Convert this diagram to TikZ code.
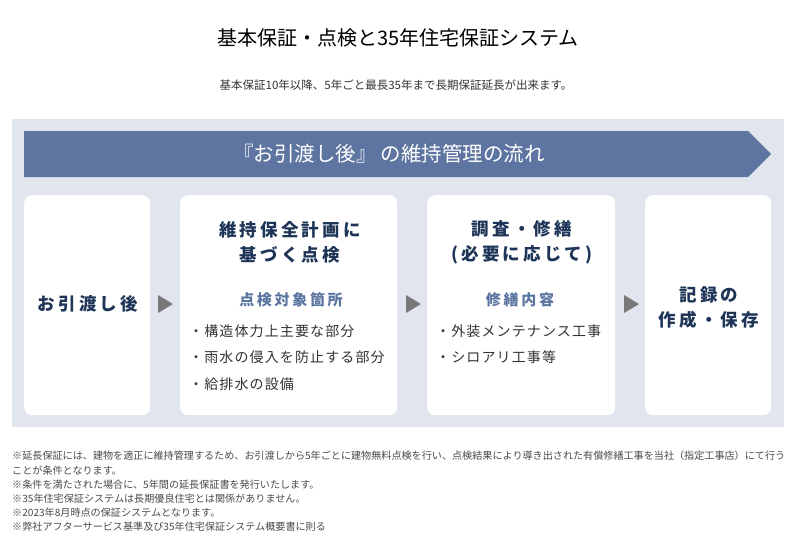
\documentclass[tikz,border=0pt]{standalone}
\usepackage{fontspec}
\setmainfont{Noto Sans CJK JP}
\usepackage{xcolor}
\usetikzlibrary{positioning}

\definecolor{panelgray}{HTML}{E1E6EE}
\definecolor{bannerblue}{HTML}{5D75A0}
\definecolor{navy}{HTML}{1E3557}
\definecolor{subblue}{HTML}{5A74A0}
\definecolor{bodygray}{HTML}{333333}
\definecolor{notegray}{HTML}{4A4A4A}
\definecolor{markgray}{HTML}{787878}

\tikzset{
  flowbox/.style={fill=white,rounded corners=8pt,inner sep=0pt,anchor=north west},
  boxtitle/.style={text=navy,align=center,inner sep=0pt,
    font=\fontsize{17.5}{25}\selectfont\bfseries\addfontfeature{LetterSpace=18}},
  subhead/.style={text=subblue,inner sep=0pt,
    font=\fontsize{15}{18}\selectfont\bfseries\addfontfeature{LetterSpace=18}},
  bullets/.style={text=bodygray,align=left,anchor=west,inner sep=0pt,
    font=\fontsize{14}{26.5}\selectfont\addfontfeature{LetterSpace=8}},
  flowmark/.style={fill=markgray}
}

\begin{document}
\begin{tikzpicture}[x=1pt,y=-1pt]
  % canvas in pixel units, y pointing down
  \useasboundingbox[fill=white] (0,0) rectangle (800,550);
  \node[font=\fontsize{20}{23}\selectfont] (title) at (398,38) {基本保証・点検と35年住宅保証システム};
  \node[font=\fontsize{11.5}{14}\selectfont,text=bodygray] (lead) at (396,85) {基本保証10年以降、5年ごと最長35年まで長期保証延長が出来ます。};
  % grey panel and banner
  \fill[panelgray] (12,119) rectangle (784,427);
  \fill[bannerblue] (24,131) -- (748,131) -- (771,154) -- (748,177) -- (24,177) -- cycle;
  \node[text=white,font=\fontsize{20.5}{23}\selectfont] (banner) at (389,154) {『お引渡し後』\hspace{0.2em}の維持管理の流れ};
  % four steps
  \node[flowbox,minimum width=126pt,minimum height=220pt] (b1) at (24,195) {};
  \node[flowbox,minimum width=217pt,minimum height=220pt] (b2) at (180,195) {};
  \node[flowbox,minimum width=188pt,minimum height=220pt] (b3) at (427,195) {};
  \node[flowbox,minimum width=126pt,minimum height=220pt] (b4) at (645,195) {};
  \foreach \x in {158,406,624}
    \fill[flowmark] (\x,295) -- (\x+15,304) -- (\x,313) -- cycle;
  \node[boxtitle] (t1) at (88,304) {お引渡し後};
  \node[boxtitle] (t2) at (290,242) {維持保全計画に\\基づく点検};
  \node[subhead] (s2) at (291,300) {点検対象箇所};
  \node[bullets] (l2) at (189,357.5) {・構造体力上主要な部分\\・雨水の侵入を防止する部分\\・給排水の設備};
  \node[boxtitle] (t3) at (522,242) {調査・修繕\\(必要に応じて)};
  \node[subhead] (s3) at (520,300) {修繕内容};
  \node[bullets] (l3) at (436,344) {・外装メンテナンス工事\\・シロアリ工事等};
  \node[boxtitle] (t4) at (709,307) {記録の\\作成・保存};
  % notes
  \node[anchor=north west,align=left,inner sep=0pt,text=notegray,font=\fontsize{10.1}{14.2}\selectfont] (notes) at (12,451)
    {※延長保証には、建物を適正に維持管理するため、お引渡しから5年ごとに建物無料点検を行い、点検結果により導き出された有償修繕工事を当社（指定工事店）にて行う\\
     ことが条件となります。\\
     ※条件を満たされた場合に、5年間の延長保証書を発行いたします。\\
     ※35年住宅保証システムは長期優良住宅とは関係がありません。\\
     ※2023年8月時点の保証システムとなります。\\
     ※弊社アフターサービス基準及び35年住宅保証システム概要書に則る};
\end{tikzpicture}
\end{document}
